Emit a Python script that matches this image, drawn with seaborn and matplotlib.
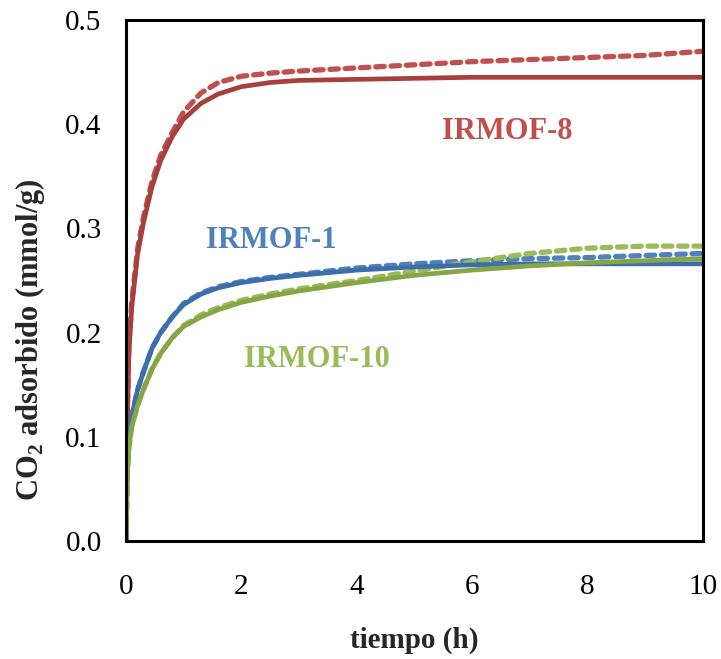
import matplotlib
matplotlib.use("Agg")
import matplotlib.pyplot as plt
import seaborn as sns
import pandas as pd

sns.set_theme(style="white")
plt.rcParams['font.family'] = ['Liberation Serif', 'DejaVu Serif']
plt.rcParams['mathtext.fontset'] = 'custom'
plt.rcParams['mathtext.rm'] = 'Liberation Serif'
plt.rcParams['mathtext.bf'] = 'Liberation Serif:bold'

time_h = [0, 0.02, 0.05, 0.1, 0.2, 0.3, 0.45, 0.6, 0.8, 1.0, 1.3, 1.6, 2, 2.5, 3, 4, 5, 6, 7, 8, 9, 10]

irmof8_exp = [0, 0.12, 0.19, 0.23, 0.28, 0.31, 0.345, 0.37, 0.392, 0.412, 0.43, 0.44, 0.446, 0.449, 0.451, 0.454, 0.457, 0.46, 0.462, 0.464, 0.466, 0.470]
irmof8_fit = [0, 0.11, 0.18, 0.225, 0.275, 0.305, 0.34, 0.365, 0.388, 0.405, 0.42, 0.429, 0.436, 0.44, 0.442, 0.443, 0.444, 0.445, 0.445, 0.445, 0.445, 0.445]

irmof1_exp = [0, 0.07, 0.10, 0.12, 0.145, 0.162, 0.185, 0.20, 0.215, 0.228, 0.238, 0.244, 0.249, 0.253, 0.256, 0.262, 0.266, 0.269, 0.271, 0.272, 0.274, 0.276]
irmof1_fit = [0, 0.07, 0.10, 0.12, 0.145, 0.162, 0.185, 0.20, 0.215, 0.227, 0.237, 0.243, 0.248, 0.252, 0.255, 0.26, 0.263, 0.265, 0.266, 0.266, 0.266, 0.266]

irmof10_exp = [0, 0.06, 0.09, 0.11, 0.13, 0.145, 0.165, 0.18, 0.195, 0.207, 0.217, 0.224, 0.231, 0.237, 0.242, 0.25, 0.259, 0.268, 0.276, 0.281, 0.283, 0.283]
irmof10_fit = [0, 0.06, 0.09, 0.11, 0.13, 0.145, 0.165, 0.18, 0.195, 0.206, 0.215, 0.222, 0.229, 0.235, 0.24, 0.248, 0.255, 0.26, 0.264, 0.267, 0.269, 0.271]

labels = ["IRMOF-8", "IRMOF-1", "IRMOF-10"]
label_pos = [(6.6, 0.393), (2.51, 0.288), (3.31, 0.174)]
exp_colors = ["#C0504D", "#4F81BD", "#9BBB59"]
fit_colors = ["#A6403D", "#3C6EAA", "#86A646"]

fig = plt.figure(figsize=(7.21, 6.59), dpi=100)
ax = fig.add_axes([0.1748, 0.179, 0.8002, 0.7907])

series = [(irmof8_exp, irmof8_fit), (irmof1_exp, irmof1_fit), (irmof10_exp, irmof10_fit)]
for (exp, fit), ce in zip(series, exp_colors):
    df = pd.DataFrame({"t": time_h, "q": exp})
    sns.lineplot(data=df, x="t", y="q", ax=ax, color=ce, linewidth=3.8,
                 linestyle=(0, (1.6, 1.3)), dash_capstyle='round', solid_capstyle='round')
for (exp, fit), cf in zip(series, fit_colors):
    df = pd.DataFrame({"t": time_h, "q": fit})
    sns.lineplot(data=df, x="t", y="q", ax=ax, color=cf, linewidth=3.4)

for lab, (x, y), c in zip(labels, label_pos, exp_colors):
    ax.text(x, y, lab, color=c, fontsize=22, fontweight='bold', ha='center', va='center')

ax.set_xlim(0, 10)
ax.set_ylim(0, 0.5)
ax.set_xticks([0, 2, 4, 6, 8, 10])
ax.set_yticks([0, 0.1, 0.2, 0.3, 0.4, 0.5])
ax.set_yticklabels(["0.0", "0.1", "0.2", "0.3", "0.4", "0.5"])
ax.tick_params(axis='both', direction='out', length=6.5, width=1.3, labelsize=21, color='black', labelcolor='black')
ax.tick_params(axis='x', pad=17)
ax.tick_params(axis='y', pad=11)
for s in ax.spines.values():
    s.set_color('black')
    s.set_linewidth(2.2)
ax.set_xlabel("tiempo (h)", fontsize=21, fontweight='bold')
ax.set_ylabel(r"CO$_\mathbf{2}$ adsorbido (mmol/g)", fontsize=22, fontweight='bold')
ax.xaxis.set_label_coords(0.5, -0.19)
ax.xaxis.label.set_va('center')
ax.yaxis.set_label_coords(-0.166, 0.386)
ax.yaxis.label.set_va('center')
ax.grid(False)

fig.savefig("out.png", dpi=100)
